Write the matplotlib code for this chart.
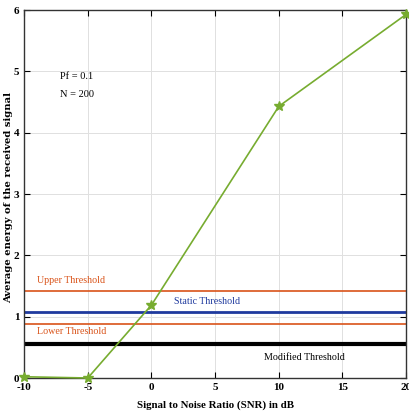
import numpy as np
import matplotlib
matplotlib.use("Agg")
import matplotlib.pyplot as plt

snr_db = [-10, -5, 0, 10, 20]
avg_energy = [0.02, 0.0, 1.19, 4.43, 5.93]

upper_thr = 1.42
static_thr = 1.08
lower_thr = 0.88
modified_thr = 0.55

x_ticks = [-10, -5, 0, 5, 10, 15, 20]
y_ticks = [0, 1, 2, 3, 4, 5, 6]

plt.rcParams.update({"font.family": "Liberation Serif", "font.size": 9,
                     "axes.unicode_minus": False})
fig = plt.figure(figsize=(4.09, 4.2), dpi=100)
ax = fig.add_axes([0.059, 0.1, 0.934, 0.876])

ax.axhline(upper_thr, color="#D95319", lw=1.2)
ax.axhline(static_thr, color="#1F3A9E", lw=2.0)
ax.axhline(lower_thr, color="#D95319", lw=1.2)
ax.axhline(modified_thr, color="black", lw=3.0)
ax.plot(snr_db, avg_energy, color="#77AC30", lw=1.2, marker="*", ms=7,
        clip_on=False, zorder=5)

ax.text(-7.2, 4.87, "Pf = 0.1", fontsize=7.5)
ax.text(-7.2, 4.58, "N = 200", fontsize=7.5)
ax.text(-9.0, 1.55, "Upper Threshold", color="#D95319", fontsize=7.2)
ax.text(4.4, 1.21, "Static Threshold", color="#1F3A9E", fontsize=7.2, ha="center")
ax.text(-9.0, 0.72, "Lower Threshold", color="#D95319", fontsize=7.2)
ax.text(12.0, 0.30, "Modified Threshold", color="black", fontsize=7.2, ha="center")

ax.set_xlim(-10, 20)
ax.set_ylim(0, 6)
ax.set_xticks(x_ticks)
ax.set_yticks(y_ticks)
ax.tick_params(direction="in", top=True, right=True, length=4, labelsize=8)
for lab in ax.get_xticklabels() + ax.get_yticklabels():
    lab.set_fontweight("bold")
ax.grid(True, color="#e0e0e0", lw=0.7)
for s in ax.spines.values():
    s.set_color("#333333")
    s.set_linewidth(1.0)

ax.set_xlabel("Signal to Noise Ratio (SNR) in dB", fontweight="bold", fontsize=7.8, labelpad=6)
ax.set_ylabel("Average energy of the received signal", fontweight="bold", fontsize=7.2,
              family="DejaVu Serif")
ax.yaxis.set_label_coords(-0.03, 0.49)

fig.savefig("out.png", dpi=100)
